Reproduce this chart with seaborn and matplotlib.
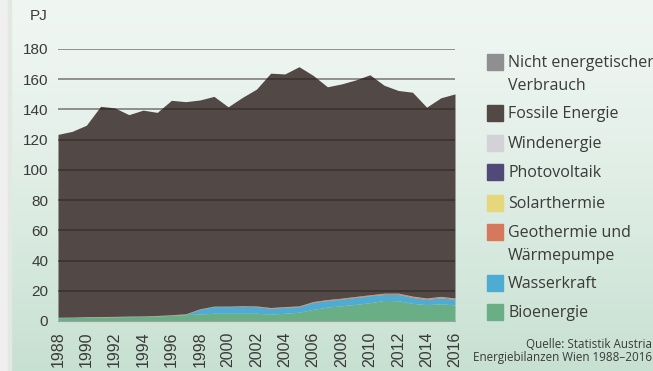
import numpy as np
import pandas as pd
import seaborn as sns
import matplotlib.pyplot as plt
from matplotlib.patches import Rectangle

# Energieverbrauch Wien in PJ
years = list(range(1988, 2017))

bioenergie = [2.2, 2.3, 2.5, 2.6, 2.7, 2.9, 3.0, 3.3, 3.7, 4.2,
              4.6, 5.1, 5.1, 5.1, 5.1, 4.6, 5.1, 5.8, 7.7, 9.2,
              10.1, 11.0, 12.1, 13.6, 13.4, 11.7, 10.8, 11.4, 10.6]
wasserkraft = [0.1, 0.1, 0.1, 0.1, 0.1, 0.1, 0.1, 0.1, 0.1, 0.2,
               3.1, 4.4, 4.4, 4.6, 4.4, 3.8, 3.9, 3.7, 4.6, 4.4,
               4.4, 4.6, 4.6, 4.0, 4.2, 3.9, 3.5, 4.0, 3.7]
geothermie = [0.2, 0.2, 0.2, 0.2, 0.2, 0.2, 0.2, 0.2, 0.3, 0.3,
              0.3, 0.3, 0.3, 0.4, 0.4, 0.4, 0.4, 0.4, 0.5, 0.5,
              0.5, 0.5, 0.5, 0.6, 0.6, 0.6, 0.6, 0.6, 0.6]
solarthermie = [0.0, 0.0, 0.05, 0.05, 0.05, 0.05, 0.05, 0.05, 0.05, 0.05,
                0.05, 0.05, 0.05, 0.05, 0.05, 0.1, 0.1, 0.1, 0.1, 0.1,
                0.1, 0.1, 0.1, 0.15, 0.15, 0.15, 0.15, 0.15, 0.15]
photovoltaik = [0.0, 0.0, 0.0, 0.0, 0.0, 0.0, 0.0, 0.0, 0.0, 0.0,
                0.0, 0.0, 0.0, 0.0, 0.0, 0.0, 0.0, 0.0, 0.0, 0.0,
                0.0, 0.05, 0.05, 0.05, 0.1, 0.1, 0.1, 0.1, 0.1]
windenergie = [0.0, 0.0, 0.0, 0.0, 0.0, 0.0, 0.0, 0.0, 0.0, 0.0,
               0.0, 0.0, 0.0, 0.0, 0.0, 0.0, 0.0, 0.0, 0.0, 0.0,
               0.0, 0.0, 0.0, 0.0, 0.0, 0.05, 0.05, 0.05, 0.05]
fossile = [121.0, 122.9, 126.7, 139.1, 138.0, 133.3, 136.2, 134.4, 141.9, 140.4,
           138.2, 138.8, 131.9, 137.8, 143.5, 155.1, 154.0, 158.3, 149.6, 140.8,
           141.8, 143.3, 145.6, 137.6, 134.1, 134.9, 126.3, 131.4, 135.1]
nicht_energetisch = [0.0] * len(years)

y_ticks = [0, 20, 40, 60, 80, 100, 120, 140, 160, 180]
x_ticks = years[::2]

# Reihenfolge von unten nach oben
series = pd.DataFrame({
    "Bioenergie": bioenergie,
    "Wasserkraft": wasserkraft,
    "Geothermie und\nWärmepumpe": geothermie,
    "Solarthermie": solarthermie,
    "Photovoltaik": photovoltaik,
    "Windenergie": windenergie,
    "Fossile Energie": fossile,
    "Nicht energetischer\nVerbrauch": nicht_energetisch,
}, index=years)

colors = {
    "Bioenergie": "#6aae86",
    "Wasserkraft": "#4eabd3",
    "Geothermie und\nWärmepumpe": "#d5785c",
    "Solarthermie": "#e6d67c",
    "Photovoltaik": "#4f4a78",
    "Windenergie": "#d3d3d7",
    "Fossile Energie": "#524846",
    "Nicht energetischer\nVerbrauch": "#8f8f92",
}

sns.set_theme(style="white")
plt.rcParams["font.family"] = ["Liberation Sans", "DejaVu Sans"]

W, H = 653, 371
fig = plt.figure(figsize=(W / 100, H / 100), dpi=100)

# Hintergrund mit Verlauf
bg = fig.add_axes([0, 0, 1, 1], zorder=-10)
grad = np.linspace(0, 1, 256).reshape(-1, 1)
top = np.array([0.94, 0.967, 0.952])
bottom = np.array([0.78, 0.88, 0.82])
img = top + (bottom - top) * grad[..., None] ** 1.3
bg.imshow(img, aspect="auto", extent=[0, 1, 0, 1], origin="upper")
bg.add_patch(Rectangle((0, 0), 8 / W, 1, color="#eeefee", zorder=2))
bg.add_patch(Rectangle((8 / W, 0), 3 / W, 1, color="#e2e8e4", zorder=2))
bg.set_axis_off()

def fx(px):
    return px / W

def fy(py):
    return 1 - py / H

ax = fig.add_axes([fx(58), fy(321), fx(455) - fx(58), (321 - 49) / H])
ax.set_facecolor("none")
ax.stackplot(series.index, series.T.values,
             colors=[colors[c] for c in series.columns], linewidth=0)

ax.set_xlim(years[0], years[-1])
ax.set_ylim(0, 180)
ax.set_yticks(y_ticks)
ax.set_yticklabels([str(t) for t in y_ticks], fontsize=11, color="#3a3a3a")
ax.set_xticks(x_ticks)
ax.set_xticklabels([str(t) for t in x_ticks], rotation=90, fontsize=11.5,
                   color="#3a3a3a", va="top")
ax.tick_params(axis="both", length=0)
ax.tick_params(axis="y", pad=7)
ax.tick_params(axis="x", pad=7.5)
for t in y_ticks[1:]:
    ax.axhline(t, color="#2a2220", alpha=0.6, lw=1.1, zorder=5)
for s in ["top", "right", "left"]:
    ax.spines[s].set_visible(False)
ax.spines["bottom"].set_color("#9aa59e")
ax.spines["bottom"].set_linewidth(0.8)
ax.grid(False)

fig.text(fx(30), fy(16), "PJ", fontsize=11, color="#3a3a3a", va="center")

# Legende
legend_rows = [
    ("Nicht energetischer\nVerbrauch", 62),
    ("Fossile Energie", 113),
    ("Windenergie", 143),
    ("Photovoltaik", 172),
    ("Solarthermie", 203),
    ("Geothermie und\nWärmepumpe", 232),
    ("Wasserkraft", 283),
    ("Bioenergie", 312),
]
for name, yc in legend_rows:
    fig.add_artist(Rectangle((fx(487), fy(yc + 8)), 16 / W, 16 / H,
                             color=colors[name], transform=fig.transFigure))
    fig.text(fx(508), fy(yc - 7), name, fontsize=11.5, color="#3a3a3a",
             va="top", ha="left", family=["Open Sans", "DejaVu Sans"],
             linespacing=1.6)

fig.text(fx(652), fy(345), "Quelle: Statistik Austria", fontsize=8.4,
         color="#3a3a3a", ha="right", va="center",
         family=["Open Sans", "DejaVu Sans"])
fig.text(fx(652), fy(357), "Energiebilanzen Wien 1988–2016", fontsize=8.4,
         color="#3a3a3a", ha="right", va="center",
         family=["Open Sans", "DejaVu Sans"])

fig.savefig("out.png", dpi=100)
